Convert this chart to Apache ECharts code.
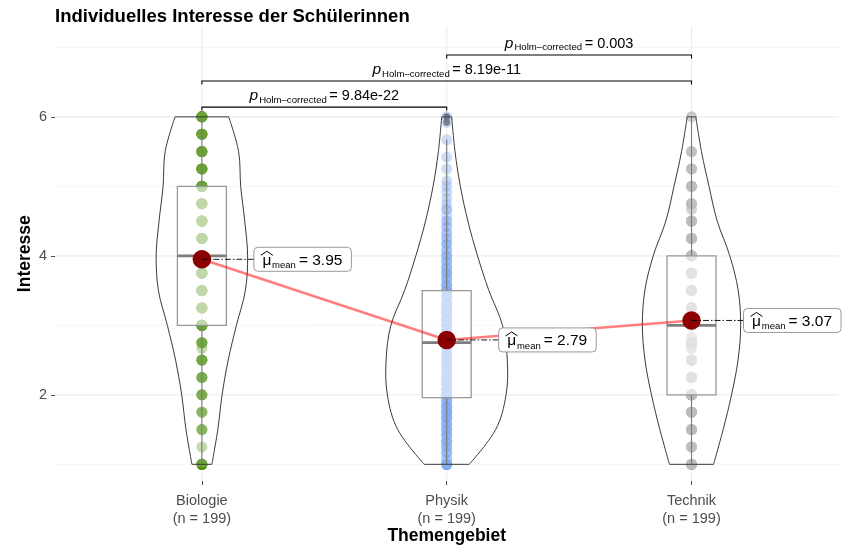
<!DOCTYPE html>
<html>
<head>
<meta charset="utf-8">
<script src="https://cdn.jsdelivr.net/npm/echarts@6/dist/echarts.min.js"></script>
<style>
  html, body { margin: 0; padding: 0; background: #fff; }
  #chart { width: 846px; height: 546px; }
</style>
</head>
<body>
<div id="chart"></div>
<script>
// ---- data -------------------------------------------------------------
const categories = ['Biologie', 'Physik', 'Technik'];
const groupSizes = [199, 199, 199];

// answer levels (scale 1-6) and number of pupils per level
const bioLevels = [1, 1.25, 1.5, 1.75, 2, 2.25, 2.5, 2.67, 2.75, 3, 3.25, 3.5, 3.75, 4, 4.25, 4.5, 4.75, 5, 5.25, 5.5, 5.75, 6];
const bioCounts = [8, 1, 3, 3, 4, 4, 5, 1, 5, 20, 10, 12, 14, 20, 12, 12, 10, 14, 9, 10, 9, 13];

const phyLevels = [1, 1.08, 1.17, 1.25, 1.33, 1.42, 1.5, 1.58, 1.67, 1.75, 1.83, 1.92,
  2, 2.08, 2.17, 2.25, 2.33, 2.42, 2.5, 2.58, 2.67, 2.75,
  2.83, 2.92, 3, 3.08, 3.17, 3.25, 3.33, 3.42, 3.5,
  3.58, 3.67, 3.75, 3.83, 3.92, 4, 4.08, 4.17, 4.25, 4.33, 4.42, 4.5,
  4.58, 4.67, 4.75, 4.83, 4.92, 5, 5.08, 5.25, 5.42, 5.67, 5.92, 6];
const phyCounts = [7, 2, 3, 3, 4, 4, 4, 4, 5, 5, 5, 4,
  5, 6, 5, 6, 5, 5, 5, 5, 5, 6,
  6, 6, 6, 6, 6, 6, 5, 4, 5,
  4, 3, 4, 3, 3, 3, 2, 3, 2, 2, 2, 2,
  1, 2, 1, 1, 1, 1, 1, 1, 1, 1, 1, 1];

const tecLevels = [1, 1.25, 1.5, 1.75, 2, 2.25, 2.5, 2.67, 2.75, 2.83, 3, 3.25, 3.5, 3.75, 4, 4.25, 4.5, 4.67, 4.75, 5, 5.25, 5.5, 6];
const tecCounts = [9, 6, 8, 9, 20, 10, 12, 3, 14, 2, 18, 13, 12, 10, 12, 8, 8, 2, 5, 7, 5, 4, 2];

// violin outline: relative density per subject at these levels
const densityLevels = [1, 1.5, 2, 2.5, 3, 3.5, 4, 4.5, 5, 5.5, 6];
const bioDensity = [0.163, 0.26, 0.33, 0.43, 0.564, 0.71, 0.747, 0.70, 0.634, 0.6, 0.438];
const phyDensity = [0.368, 0.8, 0.97, 0.99, 0.912, 0.689, 0.504, 0.346, 0.223, 0.136, 0.082];
const tecDensity = [0.36, 0.517, 0.654, 0.76, 0.803, 0.763, 0.626, 0.42, 0.286, 0.163, 0.07];

// group means
const means = [3.95, 2.79, 3.07];

// pairwise comparisons (Holm-corrected p values)
const pairs = [[0, 1], [0, 2], [1, 2]];
const pValues = ['9.84e-22', '8.19e-11', '0.003'];

// ---- helpers ----------------------------------------------------------
const FONT = '"Liberation Sans", Arial, Helvetica, sans-serif';
const measureCtx = document.createElement('canvas').getContext('2d');
function textWidth(str, size, style) {
  measureCtx.font = (style ? style + ' ' : '') + size + 'px ' + FONT;
  return measureCtx.measureText(str).width;
}
// text element placed by its alphabetic baseline
function textAt(str, x, baseline, size, extra) {
  return {
    type: 'text',
    style: Object.assign({
      text: str, x: x, y: baseline - 0.34 * size,
      fontSize: size, fontFamily: FONT, fill: '#000',
      align: 'left', verticalAlign: 'middle'
    }, extra || {})
  };
}
function expand(levels, counts) {
  const out = [];
  levels.forEach((v, i) => { for (let k = 0; k < counts[i]; k++) out.push(v); });
  return out.sort((a, b) => a - b);
}
function quantile(sorted, p) {
  const h = (sorted.length - 1) * p, lo = Math.floor(h), hi = Math.ceil(h);
  return sorted[lo] + (h - lo) * (sorted[hi] - sorted[lo]);
}
function boxStats(sorted) {
  const q1 = quantile(sorted, 0.25), med = quantile(sorted, 0.5), q3 = quantile(sorted, 0.75);
  const iqr = q3 - q1;
  const inside = sorted.filter(v => v >= q1 - 1.5 * iqr && v <= q3 + 1.5 * iqr);
  return {
    q1, med, q3,
    lo: inside[0], hi: inside[inside.length - 1],
    outliers: sorted.filter(v => v < q1 - 1.5 * iqr || v > q3 + 1.5 * iqr)
  };
}

const groups = [
  { values: expand(bioLevels, bioCounts), density: bioDensity, color: '#458B00' },
  { values: expand(phyLevels, phyCounts), density: phyDensity, color: '#6495ED' },
  { values: expand(tecLevels, tecCounts), density: tecDensity, color: '#A9A9A9' }
];
groups.forEach(g => { g.box = boxStats(g.values); });

const Y_MIN = 0.76, Y_MAX = 7.3, X_MIN = 0.4, X_MAX = 3.6;
const gridLines = [];
[2, 4, 6].forEach(v => gridLines.push({ dir: 'h', v, major: true }));
[1, 3, 5, 7].forEach(v => gridLines.push({ dir: 'h', v, major: false }));
[1, 2, 3].forEach(v => gridLines.push({ dir: 'v', v, major: true }));

// ---- renderers --------------------------------------------------------
function renderGrid(params, api) {
  const g = gridLines[params.dataIndex];
  let a, b;
  if (g.dir === 'h') { a = api.coord([X_MIN, g.v]); b = api.coord([X_MAX, g.v]); }
  else { a = api.coord([g.v, Y_MIN]); b = api.coord([g.v, Y_MAX]); }
  return {
    type: 'line',
    shape: { x1: a[0], y1: a[1], x2: b[0], y2: b[1] },
    style: { stroke: g.major ? '#ebebeb' : '#f2f2f2', lineWidth: g.major ? 1.1 : 0.8 },
    silent: true
  };
}

function renderBox(params, api) {
  const i = params.dataIndex, s = groups[i].box, x = i + 1;
  const hw = 0.1;
  const pQ3 = api.coord([x - hw, s.q3]);
  const pQ1 = api.coord([x + hw, s.q1]);
  const pMed = api.coord([x, s.med]);
  const yHi = api.coord([x, s.hi])[1], yLo = api.coord([x, s.lo])[1];
  const children = [
    { type: 'line', shape: { x1: pMed[0], y1: pQ3[1], x2: pMed[0], y2: yHi }, style: { stroke: '#595959', lineWidth: 1.1 } },
    { type: 'line', shape: { x1: pMed[0], y1: pQ1[1], x2: pMed[0], y2: yLo }, style: { stroke: '#595959', lineWidth: 1.1 } },
    { type: 'rect', shape: { x: pQ3[0], y: pQ3[1], width: pQ1[0] - pQ3[0], height: pQ1[1] - pQ3[1] },
      style: { fill: 'rgba(255,255,255,0.58)', stroke: '#808080', lineWidth: 1.3 } },
    { type: 'line', shape: { x1: pQ3[0], y1: pMed[1], x2: pQ1[0], y2: pMed[1] }, style: { stroke: '#5e5e5e', lineWidth: 2.8 } }
  ];
  s.outliers.forEach(v => {
    const p = api.coord([x, v]);
    children.push({ type: 'circle', shape: { cx: p[0], cy: p[1], r: 3.4 }, style: { fill: 'rgba(60,60,60,0.75)' } });
  });
  return { type: 'group', children };
}

function renderViolin(params, api) {
  const i = params.dataIndex, d = groups[i].density, x = i + 1;
  const left = densityLevels.map((v, k) => api.coord([x - 0.25 * d[k], v]));
  const right = densityLevels.map((v, k) => api.coord([x + 0.25 * d[k], v]));
  const n = left.length - 1;
  const stroke = { stroke: '#3a3a3a', lineWidth: 1, fill: null };
  return {
    type: 'group',
    children: [
      { type: 'polygon', shape: { points: left.concat(right.slice().reverse()), smooth: 0.35 },
        style: { fill: 'rgba(255,255,255,0.2)', stroke: null } },
      { type: 'polyline', shape: { points: left, smooth: 0.35 }, style: stroke },
      { type: 'polyline', shape: { points: right, smooth: 0.35 }, style: stroke },
      { type: 'line', shape: { x1: left[0][0], y1: left[0][1], x2: right[0][0], y2: right[0][1] }, style: stroke },
      { type: 'line', shape: { x1: left[n][0], y1: left[n][1], x2: right[n][0], y2: right[n][1] }, style: stroke }
    ]
  };
}

function renderMeanLabel(params, api) {
  const i = params.dataIndex;
  const [mx, my] = api.coord([i + 1, means[i]]);
  const fsMain = 15.5, fsSub = 9.5;
  const eq = '= ' + means[i].toFixed(2);
  const muW = textWidth('\u03bc', fsMain), subW = textWidth('mean', fsSub), eqW = textWidth(eq, fsMain);
  const padL = 8.5, padR = 9, gapSub = 0.8, gapEq = 3;
  const L = mx + 52;
  const W = padL + muW + gapSub + subW + gapEq + eqW + padR, H = 24;
  const base = my + 6.2;
  const muX = L + padL;
  return {
    type: 'group',
    children: [
      { type: 'line', shape: { x1: mx, y1: my, x2: L, y2: my },
        style: { stroke: '#000', lineWidth: 0.9, lineDash: [6, 2, 1.5, 2] } },
      { type: 'rect', shape: { x: L, y: my - H / 2, width: W, height: H, r: 4 },
        style: { fill: '#fff', stroke: '#9a9a9a', lineWidth: 1 } },
      textAt('\u03bc', muX, base, fsMain),
      { type: 'polyline', shape: { points: [[muX - 1.5, base - 10.2], [muX + muW / 2, base - 14.2], [muX + muW + 1.5, base - 10.2]] },
        style: { stroke: '#000', lineWidth: 1, fill: null } },
      textAt('mean', muX + muW + gapSub, base + 3, fsSub),
      textAt(eq, muX + muW + gapSub + subW + gapEq, base, fsMain)
    ]
  };
}

function renderBracket(params, api) {
  const k = params.dataIndex, pr = pairs[k];
  const h = 6.14 + 0.375 * k;
  const [x1, yb] = api.coord([pr[0] + 1, h]);
  const x2 = api.coord([pr[1] + 1, h])[0];
  const fsP = 15.5, fsMain = 14.5, fsSub = 9.6;
  const sub = 'Holm\u2013corrected', eq = '= ' + pValues[k];
  const pW = textWidth('p', fsP, 'italic'), subW = textWidth(sub, fsSub), eqW = textWidth(eq, fsMain);
  const total = pW + 1 + subW + 2.5 + eqW;
  const sx = (x1 + x2) / 2 - total / 2;
  const base = yb - 6.5;
  return {
    type: 'group',
    children: [
      { type: 'polyline', shape: { points: [[x1, yb + 3.5], [x1, yb], [x2, yb], [x2, yb + 3.5]] },
        style: { stroke: '#000', lineWidth: 1.1, fill: null } },
      textAt('p', sx, base, fsP, { fontStyle: 'italic' }),
      textAt(sub, sx + pW + 1, base + 2.6, fsSub),
      textAt(eq, sx + pW + 1 + subW + 2.5, base, fsMain)
    ]
  };
}

// ---- chart ------------------------------------------------------------
const series = [
  { type: 'custom', renderItem: renderGrid, data: gridLines.map((g, i) => [i]), z: 0, silent: true }
];
groups.forEach((g, i) => {
  series.push({
    type: 'scatter', data: g.values.map(v => [i + 1, v]), symbol: 'circle', symbolSize: 11,
    itemStyle: { color: g.color, opacity: 0.4 }, z: 1, silent: true
  });
});
series.push(
  { type: 'custom', renderItem: renderBox, data: groups.map((g, i) => [i + 1]), z: 2, silent: true },
  { type: 'custom', renderItem: renderViolin, data: groups.map((g, i) => [i + 1]), z: 3, silent: true },
  { type: 'line', data: means.map((m, i) => [i + 1, m]), symbol: 'none',
    lineStyle: { color: 'rgba(255,0,0,0.5)', width: 2.6 }, z: 4, silent: true },
  { type: 'scatter', data: means.map((m, i) => [i + 1, m]), symbol: 'circle', symbolSize: 18.5,
    itemStyle: { color: '#8B0000', opacity: 1 }, z: 5, silent: true },
  { type: 'custom', renderItem: renderMeanLabel, data: means.map((m, i) => [i + 1]), z: 6, silent: true },
  { type: 'custom', renderItem: renderBracket, data: pairs.map((p, i) => [i]), z: 6, silent: true }
);

const option = {
  animation: false,
  backgroundColor: '#ffffff',
  title: {
    text: 'Individuelles Interesse der Schülerinnen',
    left: 50, top: 2,
    textStyle: { fontFamily: FONT, fontSize: 18.5, fontWeight: 'bold', color: '#000' }
  },
  grid: { left: 55, right: 7.6, top: 26.5, bottom: 65, containLabel: false, outerBoundsMode: 'none' },
  xAxis: {
    type: 'value', min: X_MIN, max: X_MAX,
    axisLine: { show: false }, splitLine: { show: false },
    axisTick: { show: true, customValues: [1, 2, 3], length: 4, lineStyle: { color: '#4d4d4d', width: 1 } },
    axisLabel: {
      customValues: [1, 2, 3],
      formatter: v => categories[Math.round(v) - 1] + '\n(n = ' + groupSizes[Math.round(v) - 1] + ')',
      fontFamily: FONT, fontSize: 14.5, lineHeight: 18, color: '#4d4d4d', margin: 11
    },
    name: 'Themengebiet', nameLocation: 'middle', nameGap: 46, nameMoveOverlap: false,
    nameTextStyle: { fontFamily: FONT, fontSize: 17.5, fontWeight: 'bold', color: '#000' }
  },
  yAxis: {
    type: 'value', min: Y_MIN, max: Y_MAX,
    axisLine: { show: false }, splitLine: { show: false },
    axisTick: { show: true, customValues: [2, 4, 6], length: 4, lineStyle: { color: '#4d4d4d', width: 1 } },
    axisLabel: { customValues: [2, 4, 6], fontFamily: FONT, fontSize: 14.5, color: '#4d4d4d', margin: 8 },
    name: 'Interesse', nameLocation: 'middle', nameGap: 21, nameMoveOverlap: false,
    nameTextStyle: { fontFamily: FONT, fontSize: 17.5, fontWeight: 'bold', color: '#000' }
  },
  series: series
};

const chart = echarts.init(document.getElementById('chart'), null, { renderer: 'canvas' });
chart.setOption(option);
</script>
</body>
</html>
